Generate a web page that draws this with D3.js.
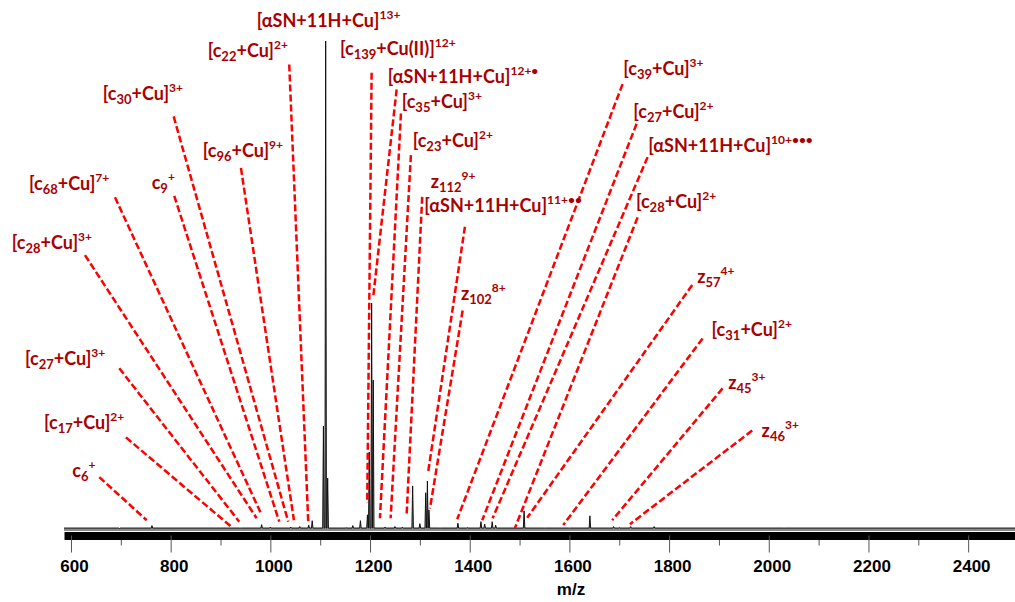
<!DOCTYPE html>
<html>
<head>
<meta charset="utf-8">
<script src="https://cdn.jsdelivr.net/npm/d3@7"></script>
<style>
  body { margin: 0; background: #fff; }
  svg { display: block; }
</style>
</head>
<body>
<div id="chart"></div>
<script>
// axis ticks (m/z)
const majorTicks = [600, 800, 1000, 1200, 1400, 1600, 1800, 2000, 2200, 2400];
const minorTicks = [700, 900, 1100, 1300, 1500, 1700, 1900, 2100, 2300];

// peaks: m/z and relative intensity (%)
const peakMz  = [697, 762.5, 940, 982.5, 1000, 1041, 1059, 1077, 1084, 1106.5, 1111, 1115,
                 1152, 1165.5, 1180.7, 1194.8, 1198.4, 1203.2, 1206.4, 1230, 1250, 1265,
                 1285.5, 1300, 1311.7, 1315.1, 1318.2, 1340, 1376.3, 1395, 1422.5, 1430,
                 1445.1, 1452, 1509.1, 1550, 1600, 1641.1, 1688.6, 1700, 1722.8, 1770, 2030];
const peakInt = [0.5, 1.1, 0.6, 1.3, 0.8, 0.8, 0.9, 1.2, 2.1, 21.4, 100, 10.8,
                 0.7, 1.1, 2.1, 3.3, 16.1, 46.5, 30.8, 0.8, 0.9, 0.8,
                 9.2, 1.5, 7.8, 10.2, 4.3, 0.6, 1.6, 0.7, 1.9, 1.4,
                 1.9, 1.2, 4.1, 0.6, 0.6, 3.1, 0.9, 0.7, 0.9, 0.9, 0.6];

// fragment annotations: text, label anchor, leader line start / end (m/z, intensity)
const annLabel = ['c_{6}^{+}', '[c_{17}+Cu]^{2+}', '[c_{27}+Cu]^{3+}', '[c_{28}+Cu]^{3+}',
  '[c_{68}+Cu]^{7+}', 'c_{9}^{+}', '[c_{30}+Cu]^{3+}', '[c_{96}+Cu]^{9+}', '[c_{22}+Cu]^{2+}',
  '[αSN+11H+Cu]^{13+}', '[c_{139}+Cu(II)]^{12+}', '[αSN+11H+Cu]^{12+•}', '[c_{35}+Cu]^{3+}',
  '[c_{23}+Cu]^{2+}', 'z_{112}^{9+}', '[αSN+11H+Cu]^{11+••}', 'z_{102}^{8+}', '[c_{39}+Cu]^{3+}',
  '[c_{27}+Cu]^{2+}', '[αSN+11H+Cu]^{10+•••}', '[c_{28}+Cu]^{2+}', 'z_{57}^{4+}',
  '[c_{31}+Cu]^{2+}', 'z_{45}^{3+}', 'z_{46}^{3+}'];
const annAt = [[602.6, 11.1], [545.8, 20.8], [507.7, 33.9], [481, 57.5], [515.7, 69.6],
  [761.9, 69.7], [663.6, 88], [864.2, 76.3], [874.2, 96.7], [972.5, 102.9], [1139.6, 97.1],
  [1235.3, 91.5], [1263.4, 86.3], [1285.5, 78.4], [1321.6, 70.1], [1308.7, 65.2],
  [1382.3, 47.1], [1707.9, 93.1], [1728, 84.2], [1758.1, 77.4], [1733.4, 65.9],
  [1856.4, 50.7], [1885.3, 39.7], [1918.5, 28.9], [1985.6, 19.2]];
const annFrom = [[656.8, 11.0], [710.3, 19.1], [696.9, 33.2], [628.1, 56.3], [688.3, 68.1],
  [807.2, 68.4], [806, 84.6], [941, 74.1], [1037.9, 95.2], null, [1203.2, 93.5],
  [1253.4, 90.1], [1262, 85.2], [1282, 76.7], [1304.7, 68.2], [1390.4, 62.1],
  [1385.8, 45], [1706.7, 91.2], [1734.8, 83.1], [1756.9, 76.3], [1736.8, 64],
  [1846.4, 50.2], [1867.2, 39.3], [1907.3, 29.1], [1966.7, 20.5]];
const annTo = [[751.9, 2.2], [922.4, 0.8], [937.6, 1.9], [972.5, 2.6], [982.5, 3.3],
  [1017.9, 1.9], [1035.9, 1.9], [1047.3, 2.2], [1076, 1.9], null, [1194.4, 5.7],
  [1206.4, 47.8], [1219.9, 2.6], [1241.3, 2.6], [1273.4, 3.3], [1316.7, 12.1],
  [1320.2, 4.6], [1374.9, 2.4], [1425.1, 2.2], [1445.9, 2.6], [1490.7, 0.6],
  [1515.3, 2.7], [1587.6, 1.2], [1685.9, 2.2], [1721.4, 1.4]];

const width = 1015;
const height = 602;

const svg = d3.select('#chart')
  .append('svg')
  .attr('width', width)
  .attr('height', height);

const x = d3.scaleLinear().domain([586, 2494]).range([64, 1015]);
const y = d3.scaleLinear().domain([0, 100]).range([531, 41]);

// spectrum trace
const base = 0.6;
const peaks = peakMz.map((m, i) => ({ m, v: peakInt[i] })).sort((a, b) => a.m - b.m);
const pts = [[x.domain()[0], base]];
peaks.forEach(p => {
  pts.push([p.m - 1.5, base], [p.m, p.v], [p.m + 1.5, base]);
});
pts.push([x.domain()[1], base]);

svg.append('path')
  .datum(pts)
  .attr('fill', '#8a8a8a')
  .attr('d', d3.area().x(d => x(d[0])).y0(y(0)).y1(d => y(d[1])));

svg.append('path')
  .datum(pts)
  .attr('fill', 'none')
  .attr('stroke', '#111')
  .attr('stroke-width', 1)
  .attr('d', d3.line().x(d => x(d[0])).y(d => y(d[1])));

// axis
const axisY = 535.5;
svg.append('g')
  .attr('transform', `translate(0, ${axisY})`)
  .call(d3.axisBottom(x).tickValues(minorTicks).tickSize(10).tickSizeOuter(0).tickFormat(''))
  .call(g => g.select('.domain').remove())
  .call(g => g.selectAll('line').attr('stroke', '#555'));

svg.append('g')
  .attr('transform', `translate(0, ${axisY})`)
  .call(d3.axisBottom(x).tickValues(majorTicks).tickSize(17).tickSizeOuter(0).tickPadding(7)
    .tickFormat(d3.format('d')))
  .call(g => g.select('.domain').attr('stroke', '#000').attr('stroke-width', 8))
  .call(g => g.selectAll('line').attr('stroke', '#555'))
  .call(g => g.selectAll('text')
    .attr('dx', 3)
    .attr('fill', '#000')
    .attr('font-family', '"Liberation Sans", Arial, sans-serif')
    .attr('font-weight', 'bold')
    .attr('font-size', 17));

svg.append('text')
  .attr('x', 571)
  .attr('y', 595)
  .attr('text-anchor', 'middle')
  .attr('font-family', '"Liberation Sans", Arial, sans-serif')
  .attr('font-weight', 'bold')
  .attr('font-size', 17)
  .text('m/z');

// leader lines
const leaders = annLabel.map((t, i) => ({ from: annFrom[i], to: annTo[i] })).filter(d => d.from);
svg.append('g')
  .selectAll('line')
  .data(leaders)
  .join('line')
    .attr('x1', d => x(d.from[0]))
    .attr('y1', d => y(d.from[1]))
    .attr('x2', d => x(d.to[0]))
    .attr('y2', d => y(d.to[1]))
    .attr('stroke', '#ff0000')
    .attr('stroke-width', 2.5)
    .attr('stroke-dasharray', '7,3');

// labels with sub/superscripts
function richText(sel, str) {
  const parts = str.match(/_\{[^}]*\}|\^\{[^}]*\}|[^_^]+/g);
  let shift = 0;
  parts.forEach(p => {
    let t = p, target = 0, size = null;
    if (p[0] === '_') { t = p.slice(2, -1); target = 4; size = 13; }
    else if (p[0] === '^') { t = p.slice(2, -1); target = -8; size = 12; }
    const ts = sel.append('tspan').attr('dy', target - shift).text(t);
    if (size) ts.attr('font-size', size);
    shift = target;
  });
}

svg.append('g')
  .attr('font-family', 'Lato, "Open Sans", sans-serif')
  .attr('font-weight', 'bold')
  .attr('font-size', 18)
  .attr('fill', '#a80000')
  .selectAll('text')
  .data(annLabel.map((t, i) => ({ t, at: annAt[i] })))
  .join('text')
    .attr('x', d => x(d.at[0]))
    .attr('y', d => y(d.at[1]))
    .each(function (d) { richText(d3.select(this), d.t); });
</script>
</body>
</html>
